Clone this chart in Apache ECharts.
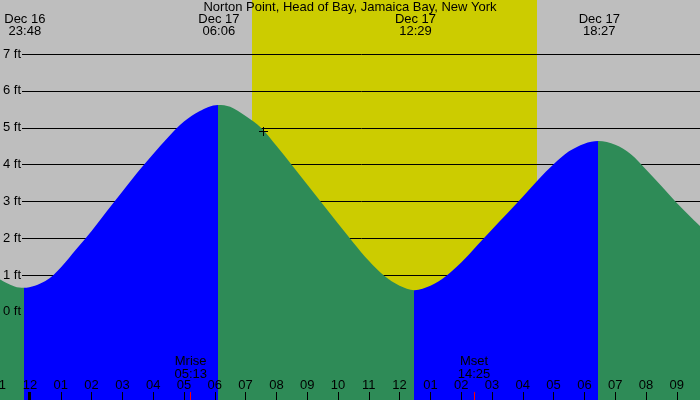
<!DOCTYPE html>
<html>
<head>
<meta charset="utf-8">
<script src="https://cdn.jsdelivr.net/npm/echarts@6/dist/echarts.min.js"></script>
<style>
html,body{margin:0;padding:0;background:#bebebe;}
#chart{width:700px;height:400px;}
</style>
</head>
<body>
<div id="chart"></div>
<script>
// ---- data (hours since midnight Dec 17, feet) ----
const titleText = 'Norton Point, Head of Bay, Jamaica Bay, New York';
const tideHours = [-1, -0.5, -0.2, 0.5, 1, 1.5, 2, 2.5, 3, 3.5, 4, 4.5, 5, 5.5, 6.1, 6.5, 7, 7.5, 8, 8.5, 9, 9.5, 10, 10.5, 11, 11.5, 12, 12.483, 13, 13.5, 14, 14.5, 15, 15.5, 16, 16.5, 17, 17.5, 18, 18.45, 19, 19.5, 20, 20.5, 21, 21.5, 22];
const tideFeet  = [0.9, 0.7, 0.665, 0.85, 1.22, 1.71, 2.21, 2.75, 3.28, 3.81, 4.3, 4.77, 5.18, 5.46, 5.63, 5.58, 5.33, 5.01, 4.52, 4.0, 3.47, 2.94, 2.41, 1.89, 1.4, 0.99, 0.72, 0.6, 0.72, 0.98, 1.35, 1.8, 2.25, 2.69, 3.14, 3.6, 4.02, 4.37, 4.58, 4.65, 4.55, 4.3, 3.88, 3.43, 2.97, 2.55, 2.15];
const extremeHours = [-0.2, 6.1, 12.483, 18.45];
const extremeDates = ['Dec 16', 'Dec 17', 'Dec 17', 'Dec 17'];
const extremeClock = ['23:48', '06:06', '12:29', '18:27'];
const sunHours = [7.21, 16.46];            // daylight band
const moonHours = [5.217, 14.417];
const moonNames = ['Mrise', 'Mset'];
const moonClock = ['05:13', '14:25'];
const nowPoint = [7.575, 4.92];
const dayStarts = [0];
const ftTicks = [0, 1, 2, 3, 4, 5, 6, 7];
const hourLabels = ['11','12','01','02','03','04','05','06','07','08','09','10','11','12','01','02','03','04','05','06','07','08','09','10'];

// ---- style ----
const GRAY = '#bebebe', YELLOW = '#cccc00', GREEN = '#2e8b57', BLUE = '#0000ff';
const FONT = 'Liberation Sans';
const FS = 13;

const tideData = tideHours.map((h, i) => [h, tideFeet[i]]);

// visualMap pieces: blue while rising (low -> high), green while falling
const pieces = [];
pieces.push({ lt: extremeHours[0], color: GREEN });
for (let i = 0; i < extremeHours.length; i++) {
  const from = extremeHours[i];
  const to = extremeHours[i + 1];
  const rising = (i % 2 === 0);
  const p = { gte: from, color: rising ? BLUE : GREEN };
  if (to !== undefined) p.lt = to;
  pieces.push(p);
}

function txt(x, y, text, align) {
  return { type: 'text', x: x, y: y, style: { text: text, fill: '#000', fontSize: FS, fontFamily: FONT, align: align || 'center', verticalAlign: 'middle' } };
}

const chart = echarts.init(document.getElementById('chart'), null, { renderer: 'canvas' });
chart.setOption({
  backgroundColor: GRAY,
  animation: false,
  title: {
    text: titleText, left: 'center', top: 1, padding: 0,
    textStyle: { fontSize: FS, fontWeight: 'normal', color: '#000', fontFamily: FONT }
  },
  grid: { left: -0.8, right: -7.6, top: 0, bottom: 0, containLabel: false, outerBoundsMode: 'none' },
  xAxis: {
    type: 'value', min: -1, max: 22, interval: 1, z: 10, position: 'bottom',
    axisLine: { show: false, onZero: false },
    axisTick: { show: true, inside: true, length: 8, lineStyle: { color: '#000', width: 1 } },
    axisLabel: {
      show: true, inside: true, margin: 8, color: '#000', fontSize: FS, fontFamily: FONT,
      showMinLabel: true, showMaxLabel: false,
      formatter: v => hourLabels[Math.round(v) + 1]
    },
    splitLine: { show: false }
  },
  yAxis: {
    type: 'value', min: -2.3803, max: 8.4796,
    axisLine: { show: false }, axisTick: { show: false }, axisLabel: { show: false }, splitLine: { show: false }
  },
  visualMap: {
    type: 'piecewise', show: false, dimension: 0, seriesIndex: 2, pieces: pieces
  },
  series: [
    { // daylight band
      type: 'custom', z: 1, silent: true, clip: false,
      data: [[sunHours[0], sunHours[1]]],
      renderItem: (params, api) => {
        const cs = params.coordSys;
        const x1 = Math.round(api.coord([api.value(0), 0])[0]);
        const x2 = Math.round(api.coord([api.value(1), 0])[0]);
        return { type: 'rect', shape: { x: x1, y: cs.y, width: x2 - x1, height: cs.height }, style: { fill: YELLOW } };
      }
    },
    { // horizontal foot lines
      type: 'custom', z: 2, silent: true, clip: false,
      data: ftTicks.map(v => [0, v]),
      renderItem: (params, api) => {
        const cs = params.coordSys;
        const y = Math.round(api.coord([0, api.value(1)])[1] - 0.5) + 0.5;
        return { type: 'line', shape: { x1: 22, y1: y, x2: cs.x + cs.width, y2: y }, style: { stroke: '#000', lineWidth: 1 } };
      }
    },
    { // tide
      type: 'line', z: 3, smooth: 0.33, showSymbol: false, silent: true,
      data: tideData,
      lineStyle: { width: 0, opacity: 0 },
      areaStyle: { opacity: 1, origin: 'start' }
    },
    { // foot labels
      type: 'custom', z: 6, silent: true, clip: false,
      data: ftTicks.map(v => [0, v]),
      renderItem: (params, api) => {
        const y = api.coord([0, api.value(1)])[1];
        return txt(3, y - 0.5, api.value(1) + ' ft', 'left');
      }
    },
    { // high / low labels at top
      type: 'custom', z: 6, silent: true, clip: false,
      data: extremeHours.map((h, i) => [h, i]),
      renderItem: (params, api) => {
        const i = api.value(1);
        const x = api.coord([api.value(0), 0])[0] + 1;
        return { type: 'group', children: [txt(x, 19.5, extremeDates[i]), txt(x, 31.5, extremeClock[i])] };
      }
    },
    { // moon rise/set labels and red ticks
      type: 'custom', z: 6, silent: true, clip: false,
      data: moonHours.map((h, i) => [h, i]),
      renderItem: (params, api) => {
        const i = api.value(1);
        const x = api.coord([api.value(0), 0])[0];
        const xt = Math.floor(x) + 0.5;
        return { type: 'group', children: [
          txt(x, 361.5, moonNames[i]),
          txt(x, 374, moonClock[i]),
          { type: 'line', shape: { x1: xt, y1: 392, x2: xt, y2: 400 }, style: { stroke: '#ff0000', lineWidth: 1 } }
        ] };
      }
    },
    { // bold midnight tick
      type: 'custom', z: 6, silent: true, clip: false,
      data: dayStarts.map(h => [h, 0]),
      renderItem: (params, api) => {
        const x = api.coord([api.value(0), 0])[0];
        return { type: 'rect', shape: { x: Math.round(x) - 2, y: 392, width: 3, height: 8 }, style: { fill: '#000' } };
      }
    },
    { // current time marker
      type: 'custom', z: 7, silent: true, clip: false,
      data: [nowPoint],
      renderItem: (params, api) => {
        const p = api.coord([api.value(0), api.value(1)]);
        const cx = Math.floor(p[0]) + 0.5, cy = Math.floor(p[1]) + 0.5;
        return { type: 'group', children: [
          { type: 'line', shape: { x1: cx - 4.5, y1: cy, x2: cx + 4.5, y2: cy }, style: { stroke: '#000', lineWidth: 1 } },
          { type: 'line', shape: { x1: cx, y1: cy - 4.5, x2: cx, y2: cy + 4.5 }, style: { stroke: '#000', lineWidth: 1 } }
        ] };
      }
    }
  ]
});
</script>
</body>
</html>
